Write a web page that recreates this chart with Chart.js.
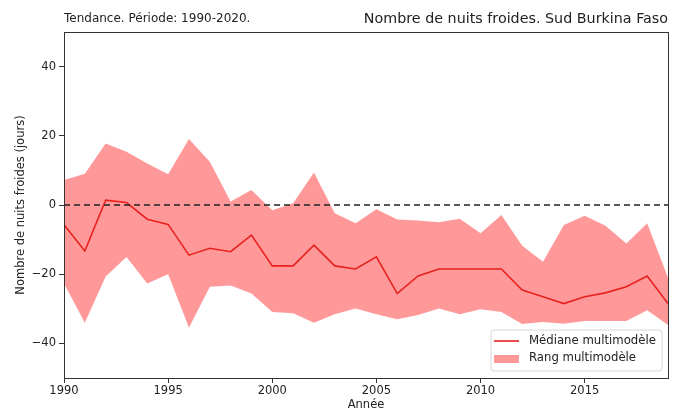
<!DOCTYPE html>
<html><head><meta charset="utf-8">
<script src="https://cdn.jsdelivr.net/npm/chart.js@4"></script>
<style>html,body{margin:0;padding:0;background:#fff}#w{width:681px;height:412px}</style>
</head><body><div id="w"><canvas id="c" width="681" height="412"></canvas></div>
<script>
const years = [1990,1991,1992,1993,1994,1995,1996,1997,1998,1999,2000,2001,2002,2003,2004,2005,2006,2007,2008,2009,2010,2011,2012,2013,2014,2015,2016,2017,2018,2019];
const median = [-5.7,-13.3,1.4,0.7,-4.1,-5.6,-14.5,-12.5,-13.5,-8.7,-17.6,-17.6,-11.6,-17.6,-18.5,-15,-25.6,-20.5,-18.5,-18.5,-18.5,-18.5,-24.6,-26.5,-28.5,-26.5,-25.4,-23.6,-20.5,-28.5];
const upper = [7.2,9.0,17.8,15.4,12,8.9,19.1,12.5,1,4.3,-1.5,0.5,9.4,-2.4,-5.3,-1.2,-4.2,-4.5,-5,-4,-8.2,-2.9,-11.8,-16.4,-5.8,-3.1,-6,-11.1,-5.3,-21];
const lower = [-22.7,-34,-20.7,-15,-22.7,-20,-35.5,-23.6,-23.3,-25.6,-30.9,-31.3,-34,-31.6,-29.9,-31.6,-33,-31.8,-29.9,-31.6,-30.1,-30.9,-34.4,-33.8,-34.3,-33.5,-33.5,-33.5,-30.4,-34.7];
const xTicks = [1990,1995,2000,2005,2010,2015];
const yTicks = [-40,-20,0,20,40];
const refValue = 0;
const titleLeft = 'Tendance. Période: 1990-2020.';
const titleRight = 'Nombre de nuits froides. Sud Burkina Faso';
const legendLabels = ['Médiane multimodèle','Rang multimodèle'];

const FONT = 'DejaVu Sans';
const pts = a => years.map((y,i)=>({x:y,y:a[i]}));

const deco = {
  id:'deco',
  afterDatasetsDraw(chart){
    const {ctx, chartArea:a, scales} = chart;
    const y0 = scales.y.getPixelForValue(refValue);
    ctx.save();
    ctx.strokeStyle = '#222'; ctx.lineWidth = 1.5; ctx.setLineDash([6,4]);
    ctx.beginPath(); ctx.moveTo(a.left,y0); ctx.lineTo(a.right,y0); ctx.stroke();
    ctx.setLineDash([]);
    // frame
    ctx.strokeStyle = '#333'; ctx.lineWidth = 1;
    ctx.strokeRect(Math.round(a.left)+0.5, Math.round(a.top)+0.5, Math.round(a.right-a.left), Math.round(a.bottom-a.top));
    // legend
    const lx = a.right-177, ly = a.bottom-48, lw = 171, lh = 41;
    ctx.fillStyle = 'rgba(255,255,255,0.85)';
    ctx.strokeStyle = '#d6d6d6';
    ctx.beginPath();
    if (ctx.roundRect) ctx.roundRect(lx,ly,lw,lh,3); else ctx.rect(lx,ly,lw,lh);
    ctx.fill(); ctx.stroke();
    ctx.strokeStyle = '#e8211f'; ctx.lineWidth = 1.6;
    ctx.beginPath(); ctx.moveTo(lx+3, ly+11); ctx.lineTo(lx+28, ly+11); ctx.stroke();
    ctx.fillStyle = 'rgba(255,0,0,0.4)';
    ctx.fillRect(lx+3, ly+25, 25, 8);
    ctx.fillStyle = '#222'; ctx.font = '11.7px '+FONT; ctx.textBaseline='middle'; ctx.textAlign='left';
    ctx.fillText(legendLabels[0], lx+38, ly+11);
    ctx.fillText(legendLabels[1], lx+38, ly+28);
    // titles
    ctx.textBaseline='alphabetic';
    ctx.font = '12px '+FONT; ctx.fillStyle='#222';
    ctx.fillText(titleLeft, a.left, 22);
    ctx.font = '14.3px '+FONT; ctx.textAlign='right';
    ctx.fillText(titleRight, a.right, 23);
    ctx.restore();
  }
};

const fmt = v => (v<0 ? '\u2212'+Math.abs(v) : String(v));

new Chart(document.getElementById('c'), {
  type:'line',
  data:{datasets:[
    {label:legendLabels[1], data:pts(upper), borderWidth:0, pointRadius:0, fill:'+1', backgroundColor:'rgba(255,0,0,0.4)', borderColor:'rgba(0,0,0,0)', tension:0, order:2},
    {label:'lower', data:pts(lower), borderWidth:0, pointRadius:0, fill:false, borderColor:'rgba(0,0,0,0)', tension:0, order:2},
    {label:legendLabels[0], data:pts(median), borderColor:'#e8211f', borderWidth:1.6, pointRadius:0, fill:false, tension:0, order:1}
  ]},
  options:{
    responsive:false, animation:false,
    layout:{padding:{top:32,right:13,left:14,bottom:0}},
    plugins:{legend:{display:false}, tooltip:{enabled:false}},
    scales:{
      x:{type:'linear', min:1990, max:2019,
        afterBuildTicks:s=>{s.ticks = xTicks.map(v=>({value:v}));},
        afterFit:s=>{s.height = 34;},
        grid:{drawOnChartArea:false, drawTicks:true, tickLength:5, color:'#333'},
        border:{display:false},
        ticks:{color:'#222', font:{family:FONT,size:11.5}, padding:1, maxRotation:0, callback:v=>String(v)},
        title:{display:true, text:'Année', color:'#222', font:{family:FONT,size:11.5}, padding:{top:0,bottom:0}}
      },
      y:{min:-50, max:50,
        afterBuildTicks:s=>{s.ticks = yTicks.map(v=>({value:v}));},
        afterFit:s=>{s.width = 50;},
        grid:{drawOnChartArea:false, drawTicks:true, tickLength:5, color:'#333'},
        border:{display:false},
        ticks:{color:'#222', font:{family:FONT,size:11.5}, padding:3, callback:fmt},
        title:{display:true, text:'Nombre de nuits froides (jours)', color:'#222', font:{family:FONT,size:11.5}, padding:{top:0,bottom:5}}
      }
    }
  },
  plugins:[deco]
});
</script></body></html>
